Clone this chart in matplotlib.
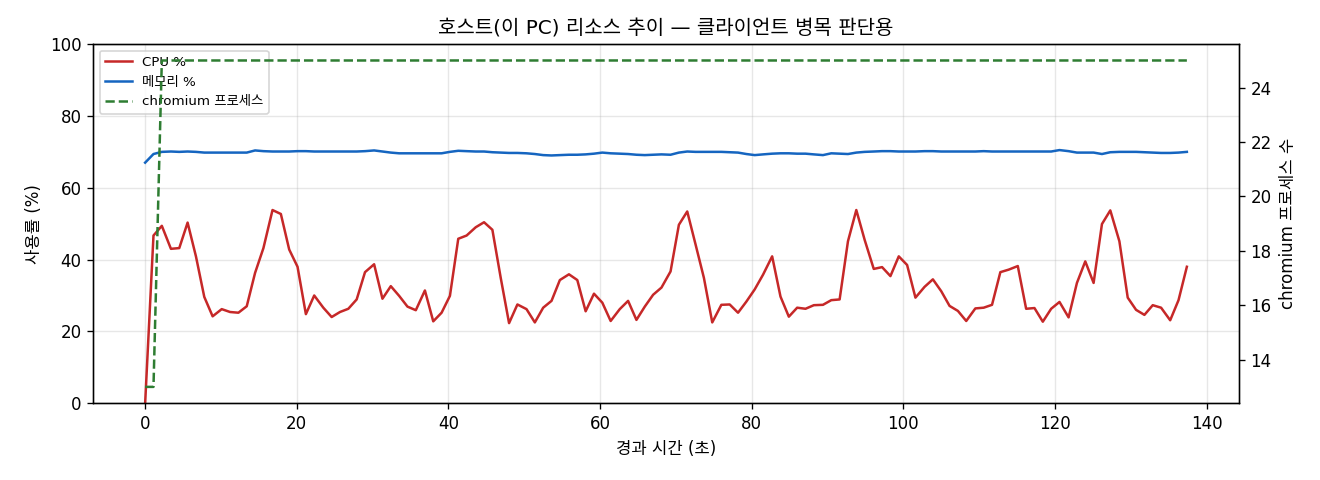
import matplotlib
matplotlib.use("Agg")
import matplotlib.pyplot as plt

# 라틴 문자는 DejaVu, 한글은 Noto CJK 로 대체
plt.rcParams['font.family'] = ['DejaVu Sans', 'Noto Sans CJK KR']
plt.rcParams['axes.unicode_minus'] = False

# 경과 시간 (초) - 약 1.1초 간격 샘플
elapsed = [
    0.0, 1.1, 2.2, 3.4, 4.5, 5.6, 6.7, 7.8, 8.9, 10.1,
    11.2, 12.3, 13.4, 14.5, 15.6, 16.8, 17.9, 19.0, 20.1, 21.2,
    22.3, 23.5, 24.6, 25.7, 26.8, 27.9, 29.0, 30.2, 31.3, 32.4,
    33.5, 34.6, 35.7, 36.9, 38.0, 39.1, 40.2, 41.3, 42.4, 43.6,
    44.7, 45.8, 46.9, 48.0, 49.1, 50.3, 51.4, 52.5, 53.6, 54.7,
    55.9, 57.0, 58.1, 59.2, 60.3, 61.4, 62.6, 63.7, 64.8, 65.9,
    67.0, 68.1, 69.3, 70.4, 71.5, 72.6, 73.7, 74.8, 76.0, 77.1,
    78.2, 79.3, 80.4, 81.5, 82.7, 83.8, 84.9, 86.0, 87.1, 88.2,
    89.4, 90.5, 91.6, 92.7, 93.8, 94.9, 96.1, 97.2, 98.3, 99.4,
    100.5, 101.6, 102.8, 103.9, 105.0, 106.1, 107.2, 108.3, 109.5, 110.6,
    111.7, 112.8, 113.9, 115.1, 116.2, 117.3, 118.4, 119.5, 120.6, 121.8,
    122.9, 124.0, 125.1, 126.2, 127.3, 128.5, 129.6, 130.7, 131.8, 132.9,
    134.0, 135.2, 136.3, 137.4,
]

cpu = [
    0.0, 46.7, 49.4, 43.0, 43.2, 50.3, 40.9, 29.6, 24.2, 26.2,
    25.4, 25.2, 27.0, 36.3, 43.2, 53.8, 52.7, 42.8, 38.0, 24.8,
    30.0, 26.6, 24.0, 25.4, 26.3, 28.9, 36.5, 38.7, 29.1, 32.6,
    29.9, 26.9, 25.9, 31.4, 22.8, 25.2, 29.9, 45.8, 46.7, 49.0,
    50.4, 48.3, 34.9, 22.3, 27.5, 26.2, 22.5, 26.6, 28.5, 34.3,
    35.9, 34.3, 25.6, 30.5, 28.0, 22.9, 26.2, 28.5, 23.2, 26.9,
    30.2, 32.2, 36.7, 49.7, 53.4, 44.2, 34.9, 22.5, 27.4, 27.5,
    25.2, 28.3, 31.7, 35.8, 40.9, 29.7, 24.1, 26.6, 26.3, 27.3,
    27.4, 28.7, 28.9, 45.1, 53.8, 45.5, 37.4, 37.9, 35.4, 40.9,
    38.5, 29.4, 32.4, 34.5, 31.2, 27.1, 25.7, 22.9, 26.4, 26.6,
    27.4, 36.5, 37.2, 38.2, 26.3, 26.5, 22.7, 26.3, 28.2, 23.9,
    33.5, 39.5, 33.5, 49.9, 53.7, 45.1, 29.4, 26.0, 24.6, 27.3,
    26.6, 23.1, 28.7, 38.0,
]

mem = [
    67.0, 69.4, 70.0, 70.1, 70.0, 70.1, 70.0, 69.8, 69.8, 69.8,
    69.8, 69.8, 69.8, 70.4, 70.2, 70.1, 70.1, 70.1, 70.2, 70.2,
    70.1, 70.1, 70.1, 70.1, 70.1, 70.1, 70.2, 70.4, 70.1, 69.8,
    69.6, 69.6, 69.6, 69.6, 69.6, 69.6, 70.0, 70.3, 70.2, 70.1,
    70.1, 69.9, 69.8, 69.7, 69.7, 69.6, 69.4, 69.1, 69.0, 69.1,
    69.2, 69.2, 69.3, 69.5, 69.8, 69.6, 69.5, 69.4, 69.2, 69.1,
    69.2, 69.3, 69.2, 69.8, 70.1, 70.0, 70.0, 70.0, 70.0, 69.9,
    69.8, 69.4, 69.1, 69.3, 69.5, 69.6, 69.6, 69.5, 69.5, 69.3,
    69.1, 69.6, 69.5, 69.4, 69.8, 70.0, 70.1, 70.2, 70.2, 70.1,
    70.1, 70.1, 70.2, 70.2, 70.1, 70.1, 70.1, 70.1, 70.1, 70.2,
    70.1, 70.1, 70.1, 70.1, 70.1, 70.1, 70.1, 70.1, 70.5, 70.2,
    69.8, 69.8, 69.8, 69.4, 69.9, 70.0, 70.0, 70.0, 69.9, 69.8,
    69.7, 69.7, 69.8, 70.0,
]

chromium = [13, 13] + [25] * 122

fig, ax1 = plt.subplots(figsize=(11, 4), dpi=120)
fig.subplots_adjust(left=0.0705, right=0.9386, top=0.908, bottom=0.160)

l1, = ax1.plot(elapsed, cpu, color='#c62828', lw=1.5, label='CPU %')
l2, = ax1.plot(elapsed, mem, color='#1565c0', lw=1.5, label='메모리 %')
ax1.set_ylim(0, 100)
ax1.set_xlabel('경과 시간 (초)')
ax1.set_ylabel('사용률 (%)')
ax1.grid(True, alpha=0.3)

ax2 = ax1.twinx()
l3, = ax2.plot(elapsed, chromium, color='#2e7d32', lw=1.5, ls='--',
               label='chromium 프로세스')
ax2.set_ylabel('chromium 프로세스 수')

ax1.legend(handles=[l1, l2, l3], loc='upper left', fontsize=8)
ax1.set_title('호스트(이 PC) 리소스 추이 — 클라이언트 병목 판단용', fontsize=12)

plt.savefig('out.png')
